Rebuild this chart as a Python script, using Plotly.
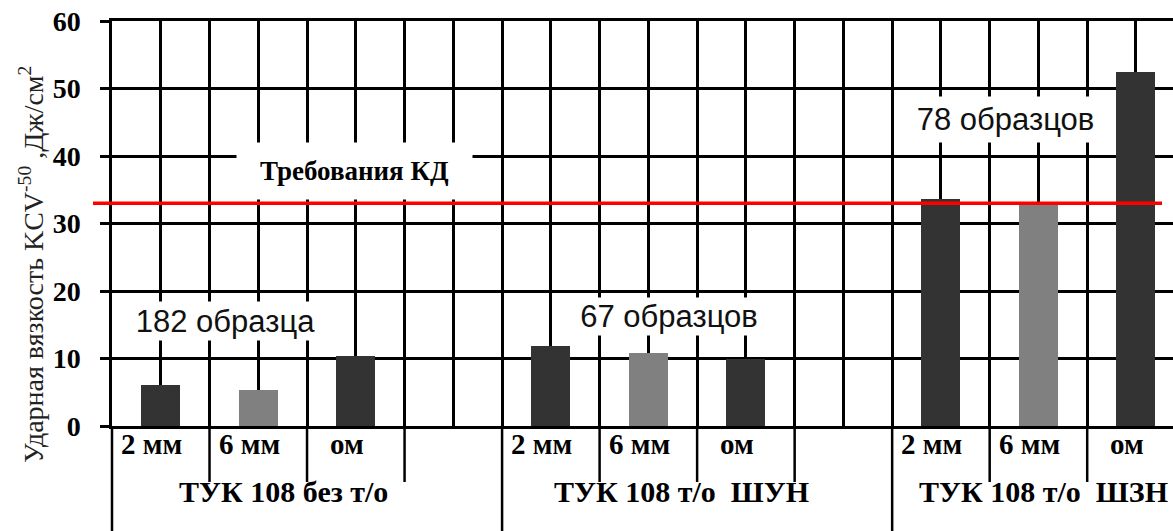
import plotly.graph_objects as go

# ---------------- data ----------------
groups = ["ТУК 108 без т/о", "ТУК 108 т/о  ШУН", "ТУК 108 т/о  ШЗН"]
notches = ["2 мм", "6 мм", "ом"]
values_2mm = [6.1, 11.8, 33.7]
values_6mm = [5.3, 10.8, 32.9]
values_om = [10.3, 9.9, 52.5]
sample_counts = ["182 образца", "67 образцов", "78 образцов"]
kd_requirement = 33.0
kd_label = "Требования КД"
y_ticks = [0, 10, 20, 30, 40, 50, 60]

# ---------------- style ----------------
W, H = 1173, 531
ML, MT, MB = 112, 21, 105
DARK, GRAY = "#333333", "#808080"
LW = 2.5
SERIF = "Liberation Serif, Times New Roman, serif"
SANS = "Liberation Sans, Arial, sans-serif"
GROUP_STEP = 4
PX_PER_X = 97.52

series = [values_2mm, values_6mm, values_om]
colors = [DARK, GRAY, DARK]

fig = go.Figure()
xs, ys, cs = [], [], []
for g in range(len(groups)):
    for i in range(len(notches)):
        xs.append(g * GROUP_STEP + i)
        ys.append(series[i][g])
        cs.append(colors[i])
fig.add_trace(go.Bar(x=xs, y=ys, marker=dict(color=cs, line=dict(width=0)),
                     width=0.4, showlegend=False, hoverinfo="y"))

plot_h = H - MT - MB
plot_w = W - ML

def py(pix):  # pixel row -> paper y
    return (H - MB - pix) / plot_h

def px(pix):  # pixel column -> paper x
    return (pix - ML) / plot_w

x_max = -0.5 + plot_w / PX_PER_X

shapes = []
# vertical line extensions below the axis
k = 0
while k + 0.5 < x_max:
    xv = k + 0.5
    full = (k + 1) % GROUP_STEP == 0
    shapes.append(dict(type="line", xref="x", yref="paper", x0=xv, x1=xv,
                       y0=0, y1=py(H + 5 if full else 482),
                       line=dict(color="black", width=LW), layer="above"))
    k += 1
# left edge extension
shapes.append(dict(type="line", xref="paper", yref="paper", x0=0, x1=0,
                   y0=0, y1=py(H + 5), line=dict(color="black", width=LW)))
# red requirement line
shapes.append(dict(type="line", xref="paper", yref="y",
                   x0=px(93), x1=px(1162),
                   y0=kd_requirement, y1=kd_requirement,
                   line=dict(color="#ff0000", width=3.5), layer="above"))

annotations = []
# notch labels
for g in range(len(groups)):
    for i, lab in enumerate(notches):
        annotations.append(dict(x=g * GROUP_STEP + i, y=py(462), xref="x", yref="paper",
                                text=lab, showarrow=False, xshift=-9,
                                font=dict(family=SERIF, size=29, color="black", weight="bold")))
# group labels
group_label_x = [1.26, 5.34, 9.05]
for g, lab in enumerate(groups):
    annotations.append(dict(x=group_label_x[g], y=py(510), xref="x", yref="paper",
                            text=lab, showarrow=False,
                            font=dict(family=SERIF, size=30, color="black", weight="bold")))
# sample count boxes
count_pos = [(0.667, 15.56, 205, 38), (5.21, 16.2, 210, 37), (8.66, 45.4, 205, 45)]
for (x, y, w, h), lab in zip(count_pos, sample_counts):
    annotations.append(dict(x=x, y=y, xref="x", yref="y", text=lab, showarrow=False,
                            width=w, height=h, bgcolor="white", borderpad=0,
                            font=dict(family=SANS, size=31, color="#111111")))
# requirement label
annotations.append(dict(x=1.984, y=37.78, xref="x", yref="y", text=kd_label,
                        showarrow=False, width=235, height=56, bgcolor="white", borderpad=0,
                        font=dict(family=SERIF, size=27, color="black", weight="bold")))
# y title
annotations.append(dict(x=px(31), y=py(265), xref="paper", yref="paper",
                        xanchor="center", yanchor="middle",
                        text="Ударная вязкость KCV<sup>-50</sup> ,Дж/см<sup>2</sup>",
                        textangle=-90, showarrow=False,
                        font=dict(family=SERIF, size=28, color="#222222")))

fig.update_layout(
    width=W, height=H,
    margin=dict(l=ML, r=0, t=MT, b=MB, pad=0, autoexpand=False),
    plot_bgcolor="white", paper_bgcolor="white",
    shapes=shapes, annotations=annotations,
    bargap=0,
    xaxis=dict(range=[-0.5, x_max], tickmode="linear", tick0=-0.5, dtick=0.5,
               showgrid=True, gridcolor="black", gridwidth=LW, showticklabels=False,
               ticks="", zeroline=False, showline=True, mirror=True,
               linecolor="black", linewidth=LW),
    yaxis=dict(range=[0, 60], tickvals=y_ticks, showgrid=True, gridcolor="black",
               gridwidth=LW, zeroline=False, showline=True, linecolor="black", linewidth=LW,
               ticks="outside", ticklen=9, tickwidth=LW, tickcolor="black",
               ticklabelstandoff=14, automargin=False, ticklabeloverflow="allow",
               tickfont=dict(family=SERIF, size=28, color="black", weight="bold")),
)

fig.write_html("out.html", config={"displayModeBar": False},
               post_script="document.body.style.margin='0px';document.body.style.overflow='hidden';")
